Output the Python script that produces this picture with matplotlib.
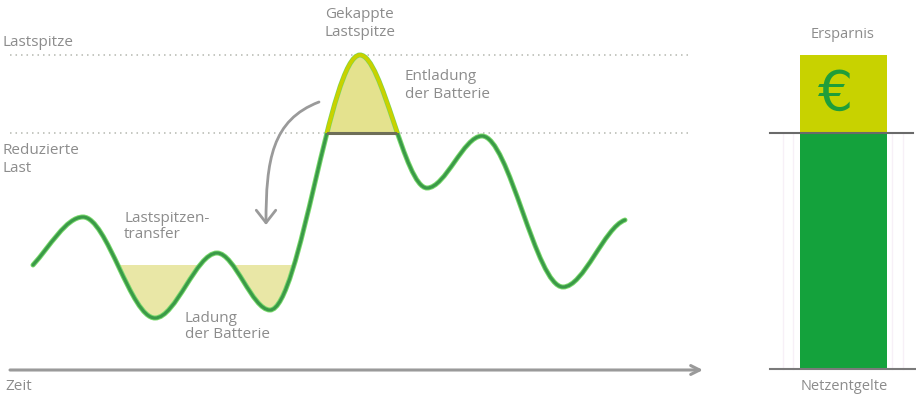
import numpy as np
import matplotlib
matplotlib.use("Agg")
import matplotlib.pyplot as plt
from matplotlib.path import Path
from matplotlib.patches import PathPatch, FancyArrowPatch, Rectangle

# ---------------- data (load units, time units) ----------------
# knots of the load curve: time, load, slope at knot
curve_t = [33, 83, 155, 217, 270, 360, 427, 482, 563, 625]
curve_load = [104, 152, 51, 116, 59, 314, 181, 233, 82, 149]
curve_slope = [1.1, 0, 0, 0, 0, 0, 0, 0, 0, 0.35]

peak_load = 314        # Lastspitze
reduced_load = 236     # Reduzierte Last
charge_level = 104     # level of "Lastspitzen-transfer"

bar_labels = ["Netzentgelte", "Ersparnis"]
bar_values = [236, 78]   # grid fees (reduced) + savings

TEXT = "#8c8c8c"
GREEN_LINE = "#3a9a48"
GREEN_GLOW = "#78d86a"
YELLOW = "#c8d200"
LIGHT_FILL = "#e9e7a6"
PEAK_FILL = "#e4e28e"
BAR_GREEN = "#14a23c"

plt.rcParams["font.family"] = ["Open Sans", "DejaVu Sans"]

fig = plt.figure(figsize=(9.16, 3.98), dpi=100)
ax = fig.add_axes([0, 0, 1, 1])
ax.set_xlim(0, 916)
ax.set_ylim(-29, 369)
ax.axis("off")

# ---------------- build the smooth curve path ----------------
verts = [(curve_t[0], curve_load[0])]
codes = [Path.MOVETO]
for i in range(len(curve_t) - 1):
    x0, y0, s0 = curve_t[i], curve_load[i], curve_slope[i]
    x1, y1, s1 = curve_t[i + 1], curve_load[i + 1], curve_slope[i + 1]
    dx = (x1 - x0) / 3.0
    verts += [(x0 + dx, y0 + s0 * dx), (x1 - dx, y1 - s1 * dx), (x1, y1)]
    codes += [Path.CURVE4] * 3
curve_path = Path(verts, codes)

# region above curve (load > curve) and below curve
above_path = Path(verts + [(curve_t[-1], 500), (curve_t[0], 500), verts[0]],
                  codes + [Path.LINETO, Path.LINETO, Path.CLOSEPOLY])
below_path = Path(verts + [(curve_t[-1], -200), (curve_t[0], -200), verts[0]],
                  codes + [Path.LINETO, Path.LINETO, Path.CLOSEPOLY])
above_patch = PathPatch(above_path, transform=ax.transData, fill=False, lw=0)
below_patch = PathPatch(below_path, transform=ax.transData, fill=False, lw=0)
ax.add_patch(above_patch)
ax.add_patch(below_patch)
above_patch.set_visible(False)
below_patch.set_visible(False)

# charge fill (between curve and charge level, between first and third valley)
lo_fill = ax.fill_between([curve_t[1], curve_t[5]], -29, charge_level,
                          color=LIGHT_FILL, lw=0, zorder=1)
lo_fill.set_clip_path(above_patch)

# discharge fill (peak above reduced load)
hi_fill = ax.fill_between([curve_t[4], curve_t[6]], reduced_load, 369,
                          color=PEAK_FILL, lw=0, zorder=1)
hi_fill.set_clip_path(below_patch)

# dotted reference lines
for lvl in (peak_load, reduced_load):
    ax.plot([10, 688], [lvl, lvl], color="#b5b8b0", lw=1.1,
            ls=(0, (1, 2.6)), zorder=0.5)

# the load curve
glow = PathPatch(curve_path, fill=False, ec=GREEN_GLOW, lw=3.6, zorder=3,
                 capstyle="round")
ax.add_patch(glow)
line = PathPatch(curve_path, fill=False, ec=GREEN_LINE, lw=2.2, zorder=4,
                 capstyle="round")
ax.add_patch(line)
# yellow edge where curve exceeds the reduced load
clip_rect = Rectangle((0, reduced_load), 916, 400, transform=ax.transData)
top_edge = PathPatch(curve_path, fill=False, ec=YELLOW, lw=2.8, zorder=5)
ax.add_patch(top_edge)
top_edge.set_clip_path(clip_rect)

# dark cap line at reduced load under the cut peak
cap, = ax.plot([curve_t[4], curve_t[6]], [reduced_load, reduced_load],
               color="#6e6e58", lw=2.2, zorder=6)
cap.set_clip_path(below_patch)

# time axis
ax.annotate("", xy=(703, -1), xytext=(10, -1),
            arrowprops=dict(arrowstyle="->", color="#9a9a9a", lw=2.2,
                            mutation_scale=16, shrinkA=0, shrinkB=0))

# curved transfer arrow
arr_path = Path([(319, 267), (272, 249), (266, 209), (266, 144)],
                [Path.MOVETO, Path.CURVE4, Path.CURVE4, Path.CURVE4])
arr = FancyArrowPatch(path=arr_path, arrowstyle="->,head_length=0.45,head_width=0.35",
                      color="#9a9a9a", lw=2.0, mutation_scale=20, zorder=2)
ax.add_patch(arr)

# ---------------- bar on the right ----------------
bx = 843.5
ax.bar([bx], [bar_values[0]], width=87, bottom=0, color=BAR_GREEN, zorder=2)
ax.bar([bx], [bar_values[1]], width=87, bottom=bar_values[0], color=YELLOW,
       zorder=2)
for fx in (783, 793, 892, 903):
    ax.plot([fx, fx], [0, bar_values[0]], color="#f7f0f7", lw=1, zorder=1)
ax.plot([770, 913], [bar_values[0], bar_values[0]], color="#6a6a6a", lw=1.5,
        zorder=3)
ax.plot([770, 916], [0, 0], color="#7a7a7a", lw=1.5, zorder=3)
ax.text(836, bar_values[0] + bar_values[1] / 2 - 1, "€", color="#1f9e3a",
        fontsize=40, ha="center", va="center",
        family=["DejaVu Sans"], zorder=4)
ax.text(bx - 1, 334, bar_labels[1], color=TEXT, fontsize=10.5, ha="center", va="center")
ax.text(bx + 1, -18, bar_labels[0], color=TEXT, fontsize=10.5, ha="center", va="center")

# ---------------- labels ----------------
fs = 11
ax.text(3, 327, "Lastspitze", color=TEXT, fontsize=fs, va="center")
ax.text(3, 219, "Reduzierte", color=TEXT, fontsize=fs, va="center")
ax.text(3, 201, "Last", color=TEXT, fontsize=fs, va="center")
ax.text(5, -18, "Zeit", color=TEXT, fontsize=fs, va="center")
ax.text(360, 354, "Gekappte", color=TEXT, fontsize=fs, ha="center", va="center")
ax.text(360, 336, "Lastspitze", color=TEXT, fontsize=fs, ha="center", va="center")
ax.text(405, 293, "Entladung", color=TEXT, fontsize=fs, va="center")
ax.text(405, 275, "der Batterie", color=TEXT, fontsize=fs, va="center")
ax.text(124, 151, "Lastspitzen-", color=TEXT, fontsize=fs, va="center")
ax.text(124, 134, "transfer", color=TEXT, fontsize=fs, va="center")
ax.text(185, 51, "Ladung", color=TEXT, fontsize=fs, va="center")
ax.text(185, 34, "der Batterie", color=TEXT, fontsize=fs, va="center")

fig.savefig("out.png", dpi=100)
